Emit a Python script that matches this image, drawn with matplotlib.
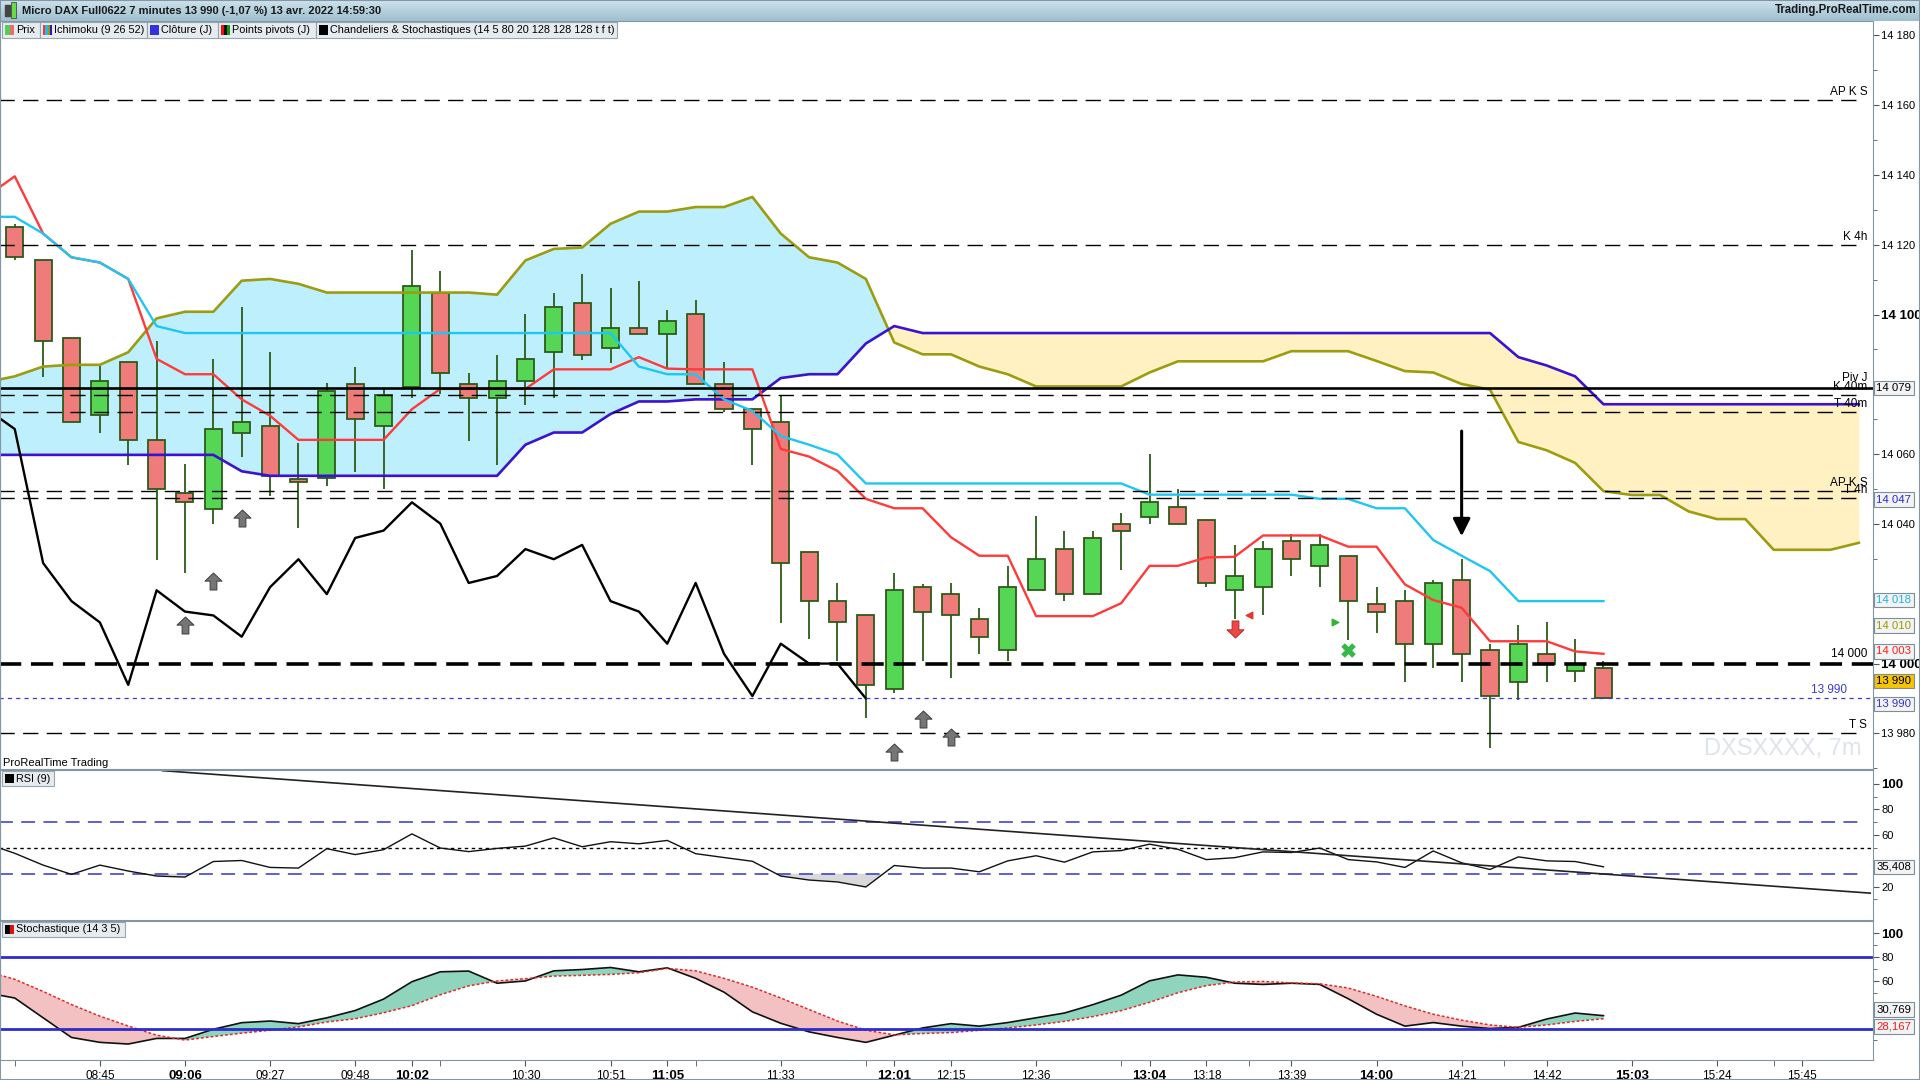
import matplotlib.pyplot as plt
import numpy as np
from matplotlib.path import Path
from matplotlib.patches import Rectangle
from matplotlib.colors import LinearSegmentedColormap

plt.rcParams["font.family"] = ["Liberation Sans", "DejaVu Sans"]
plt.rcParams["lines.scale_dashes"] = False

# 7 minute candles, first bar 08:24, last bar 14:56
opens = [14125.2, 14115.5, 14093.3, 14071.3, 14086.3, 14064.1, 14049.0, 14044.2, 14066.1, 14068.1,
         14053.0, 14053.3, 14080.1, 14068.2, 14079.2, 14106.2, 14080.1, 14076.2, 14081.1, 14089.2,
         14103.3, 14090.4, 14096.1, 14094.4, 14100.1, 14080.1, 14073.0, 14069.2, 14032.0, 14017.9,
         14013.8, 13992.8, 14021.9, 14019.9, 14012.9, 14003.8, 14021.0, 14032.8, 14019.9, 14040.1,
         14042.1, 14045.0, 14041.0, 14021.0, 14021.9, 14035.0, 14028.0, 14030.9, 14017.0, 14017.9,
         14005.7, 14023.9, 14003.8, 13994.8, 14002.8, 13998.0, 13998.8]
highs = [14125.8, 14115.5, 14093.3, 14085.2, 14086.3, 14092.5, 14057.2, 14087.3, 14102.3, 14089.3,
         14063.3, 14080.3, 14085.1, 14079.0, 14118.5, 14112.4, 14083.2, 14088.3, 14100.2, 14106.3,
         14111.5, 14107.5, 14109.5, 14101.4, 14104.3, 14086.3, 14073.0, 14077.0, 14032.0, 14023.2,
         14013.8, 14026.0, 14022.8, 14023.2, 14015.9, 14028.1, 14042.2, 14038.1, 14038.1, 14043.1,
         14060.1, 14050.1, 14041.0, 14034.1, 14035.0, 14037.0, 14037.0, 14030.9, 14022.0, 14021.0,
         14024.0, 14030.1, 14005.7, 14011.0, 14011.8, 14007.1, 14000.8]
lows = [14115.5, 14082.1, 14069.3, 14066.0, 14056.9, 14029.8, 14026.0, 14040.0, 14059.1, 14048.1,
        14038.9, 14050.8, 14054.9, 14050.1, 14076.2, 14077.1, 14063.9, 14056.9, 14074.1, 14076.1,
        14087.1, 14086.2, 14094.4, 14084.5, 14080.1, 14072.2, 14056.9, 14011.6, 14007.0, 14000.8,
        13984.5, 13991.7, 14000.8, 13995.8, 14002.8, 14000.8, 14021.0, 14017.9, 14019.9, 14026.7,
        14040.0, 14040.1, 14021.9, 14012.9, 14013.8, 14025.0, 14021.9, 14006.9, 14008.8, 13994.8,
        13998.8, 13994.8, 13975.7, 13989.7, 13994.8, 13994.8, 13990.0]
closes = [14116.4, 14092.4, 14069.3, 14081.1, 14064.1, 14050.1, 14046.2, 14067.2, 14069.3, 14053.8,
          14051.9, 14078.2, 14070.2, 14077.0, 14108.2, 14083.2, 14076.2, 14081.1, 14087.2, 14102.2,
          14088.3, 14096.1, 14094.4, 14098.1, 14080.1, 14073.0, 14067.2, 14028.8, 14017.9, 14011.8,
          13993.9, 14021.0, 14014.9, 14013.8, 14007.7, 14021.9, 14029.9, 14019.9, 14036.0, 14038.1,
          14046.2, 14040.1, 14023.1, 14025.1, 14032.8, 14029.9, 14034.0, 14017.9, 14014.9, 14005.7,
          14023.1, 14002.8, 13990.7, 14005.7, 14000.0, 14000.0, 13990.0]

# ichimoku lines, starting one bar before the first candle
tenkan = [14133.8, 14139.6, 14123.2, 14116.4, 14114.9, 14110.2, 14087.3, 14082.9, 14082.9, 14075.7,
          14071.0, 14064.1, 14064.1, 14064.1, 14064.1, 14072.9, 14078.7, 14078.7, 14078.7, 14078.7,
          14084.3, 14084.3, 14084.3, 14087.8, 14084.5, 14084.3, 14084.3, 14084.3, 14061.5, 14059.3,
          14055.2, 14047.2, 14044.5, 14044.5, 14036.2, 14030.9, 14030.9, 14013.6, 14013.6, 14013.6,
          14017.3, 14028.0, 14028.0, 14030.4, 14030.6, 14036.7, 14036.7, 14036.7, 14033.5, 14033.5,
          14022.7, 14018.2, 14016.0, 14006.4, 14006.4, 14006.4, 14003.5, 14002.8]
kijun = [14128.0, 14128.0, 14123.2, 14116.4, 14114.9, 14110.2, 14096.7, 14094.7, 14094.7, 14094.7,
         14094.7, 14094.7, 14094.7, 14094.7, 14094.7, 14094.7, 14094.7, 14094.7, 14094.7, 14094.7,
         14094.7, 14094.7, 14094.7, 14085.1, 14082.9, 14082.9, 14075.7, 14072.4, 14065.2, 14062.7,
         14059.9, 14051.6, 14051.6, 14051.6, 14051.6, 14051.6, 14051.6, 14051.6, 14051.6, 14051.6,
         14051.6, 14048.4, 14048.4, 14048.4, 14048.4, 14048.4, 14048.4, 14047.2, 14047.2, 14044.5,
         14044.5, 14035.4, 14030.9, 14026.5, 14017.9, 14017.9, 14017.9, 14017.9]
span_a = [14080.6, 14082.3, 14085.1, 14085.6, 14085.6, 14089.2, 14098.9, 14100.8, 14100.8, 14109.7,
          14110.2, 14108.8, 14106.3, 14106.3, 14106.3, 14106.3, 14106.3, 14106.3, 14105.7, 14115.5,
          14118.8, 14119.2, 14126.0, 14129.5, 14129.5, 14130.8, 14130.8, 14133.7, 14123.2, 14116.4,
          14114.9, 14110.2, 14092.0, 14088.6, 14088.6, 14085.1, 14082.9, 14079.4, 14079.4, 14079.4,
          14079.4, 14083.4, 14086.6, 14086.6, 14086.6, 14086.6, 14089.5, 14089.5, 14089.5, 14086.7,
          14083.8, 14083.4, 14080.1, 14078.5, 14063.5, 14061.1, 14057.5, 14049.4, 14048.3, 14048.3,
          14043.6, 14041.4, 14041.4, 14032.6, 14032.6, 14032.6, 14034.6]
span_b = [14059.8, 14059.8, 14059.8, 14059.8, 14059.8, 14059.8, 14059.8, 14059.8, 14059.8, 14055.1,
          14053.8, 14053.8, 14053.8, 14053.8, 14053.8, 14053.8, 14053.8, 14053.8, 14053.8, 14062.7,
          14066.2, 14066.2, 14071.5, 14075.1, 14075.1, 14075.7, 14075.7, 14075.7, 14081.8, 14082.9,
          14082.9, 14091.7, 14096.7, 14094.7, 14094.7, 14094.7, 14094.7, 14094.7, 14094.7, 14094.7,
          14094.7, 14094.7, 14094.7, 14094.7, 14094.7, 14094.7, 14094.7, 14094.7, 14094.7, 14094.7,
          14094.7, 14094.7, 14094.7, 14094.7, 14087.8, 14085.4, 14082.3, 14074.3, 14074.3, 14074.3,
          14074.3, 14074.3, 14074.3, 14074.3, 14074.3, 14074.3, 14074.3]
chikou_lag = 26

# RSI (9) and stochastic (14 3 5), starting one bar before the first candle
rsi = [53.5, 45.9, 36.7, 29.5, 36.7, 32.1, 28.2, 27.4, 39.5, 40.3,
       34.9, 34.4, 49.5, 44.9, 48.7, 61.0, 50.0, 47.2, 49.7, 51.5,
       57.9, 51.0, 54.9, 53.3, 55.9, 45.6, 42.6, 39.7, 28.2, 25.1,
       23.6, 19.7, 36.4, 34.4, 34.4, 31.5, 40.0, 44.0, 39.0, 47.0,
       48.0, 53.0, 49.0, 41.0, 42.5, 47.0, 46.5, 50.0, 41.0, 39.2,
       34.9, 47.7, 38.5, 33.3, 43.1, 40.0, 39.5, 35.4]
rsi_trend_x = [5.2, 65.4]
rsi_trend_y = [110.2, 14.9]
stoch_k = [50.0, 45.6, 29.0, 12.5, 8.4, 7.0, 11.7, 11.7, 19.4, 24.9,
           26.3, 24.1, 29.0, 35.1, 44.7, 59.3, 67.6, 68.2, 58.0, 59.9,
           68.4, 69.5, 71.2, 67.6, 70.9, 62.1, 50.5, 34.0, 24.4, 17.2,
           12.5, 8.4, 14.4, 20.5, 24.1, 22.0, 25.0, 29.0, 33.0, 40.0,
           48.0, 60.0, 65.0, 63.0, 58.0, 57.0, 58.0, 57.0, 45.0, 32.0,
           22.0, 25.0, 22.0, 20.0, 21.0, 28.0, 33.0, 30.8]
stoch_d = [68.0, 61.3, 51.1, 40.1, 30.4, 22.1, 14.4, 10.3, 13.3, 16.1,
           18.6, 21.3, 25.5, 28.2, 33.2, 39.2, 48.3, 55.8, 59.9, 61.8,
           64.0, 64.6, 65.4, 66.8, 70.4, 68.4, 62.1, 54.7, 45.6, 35.9,
           26.3, 18.6, 14.7, 15.8, 16.6, 18.5, 20.5, 23.0, 26.0, 30.0,
           35.0, 42.0, 50.0, 56.0, 59.0, 59.5, 58.3, 57.5, 54.0, 47.0,
           39.0, 32.0, 27.0, 23.0, 21.0, 23.0, 26.0, 28.2]

# horizontal levels drawn on the price panel
level_values = [14161.5, 14120.0, 14077.0, 14072.0, 14049.5, 14047.3, 13980.0]
level_names = ["AP K S", "K 4h", "K 40m", "T 40m", "AP K S", "T 4h", "T S"]
pivot_value = 14079
round_value = 14000
last_price = 13990

# signal markers
grey_up_x = [6, 7, 8, 31, 32, 33]
grey_up_y = [14011.0, 14023.8, 14041.7, 13974.6, 13984.0, 13979.0]
red_down = (43, 14009.8)
red_tri = (43.5, 14013.8)
green_tri = (46.55, 14011.8)
green_cross = (47, 14003.9)
big_arrow = (51, 14066.6, 14036.5)

tick_idx = [3, 6, 9, 12, 14, 18, 21, 23, 27, 31, 33, 36, 40, 42, 45, 48, 51, 54, 57, 60, 63]
tick_lbl = ["08:45", "09:06", "09:27", "09:48", "10:02", "10:30", "10:51", "11:05", "11:33", "12:01",
            "12:15", "12:36", "13:04", "13:18", "13:39", "14:00", "14:21", "14:42", "15:03", "15:24", "15:45"]
bold_lbl = ["09:06", "10:02", "11:05", "12:01", "13:04", "14:00", "15:03"]
minor_idx = [0, 15, 24, 30, 39, 43.5, 52.5, 62]

W, H = 1920, 1080
AX_R = 1873
GREEN, RED, WICK = "#55d655", "#ef7b7b", "#2d5a18"
BORDER = "#8596a3"


def fx(px):
    return px / W


def fy(py):
    return 1 - py / H


def fmt(v):
    return f"{v:,.0f}".replace(",", " ")


fig = plt.figure(figsize=(19.2, 10.8), dpi=100)
ax = fig.add_axes([0, fy(769), fx(AX_R), fy(21) - fy(769)])
ax_rsi = fig.add_axes([0, fy(920), fx(AX_R), fy(770) - fy(920)])
ax_sto = fig.add_axes([0, fy(1060), fx(AX_R), fy(921) - fy(1060)])

for a in (ax, ax_rsi, ax_sto):
    a.set_xlim(-0.52, 65.5)
    a.yaxis.tick_right()
    a.tick_params(axis="y", which="both", direction="out", length=4, pad=2,
                  labelsize=8, color="#555555")
    a.tick_params(axis="y", which="minor", length=3)
    for s in a.spines.values():
        s.set_color(BORDER)
    if a is not ax_sto:
        a.set_xticks([])

# ---- price panel ----
ax.set_ylim(13969.8, 14184.1)
xl = np.arange(-1, len(tenkan) - 1)
xc = np.arange(-1, len(span_a) - 1)
sa = np.array(span_a)
sb = np.array(span_b)
ax.fill_between(xc, sa, sb, where=sa >= sb, interpolate=True, color="#bdf0fc", lw=0, zorder=1)
ax.fill_between(xc, sa, sb, where=sa < sb, interpolate=True, color="#fff1c1", lw=0, zorder=1)

o = np.array(opens)
c = np.array(closes)
idx = np.arange(len(c))
up = c >= o
ax.vlines(idx, lows, highs, color=WICK, lw=1.3, zorder=3)
ax.bar(idx, np.maximum(np.abs(c - o), 0.35), bottom=np.minimum(o, c), width=0.6,
       color=np.where(up, GREEN, RED), edgecolor=WICK, linewidth=1.3, zorder=4)

ax.plot(xc, sa, color="#9c9c10", lw=1.9, zorder=5)
ax.plot(xc, sb, color="#3a12cf", lw=1.9, zorder=5)
ax.plot(xl, tenkan, color="#ff3a3a", lw=1.7, zorder=6)
ax.plot(xl, kijun, color="#1ec6f2", lw=1.7, zorder=6)
ax.plot(idx[chikou_lag - 1:] - chikou_lag, c[chikou_lag - 1:], color="black", lw=1.7, zorder=6)

for v, name in zip(level_values, level_names):
    ln, = ax.plot([-1, 65.1], [v, v], color="black", lw=1.0, zorder=7)
    ln.set_dashes((11, 6))
    ax.text(65.3, v + 0.6, name, ha="right", va="bottom", fontsize=8.5, zorder=8)
ax.plot([-1, 66], [pivot_value, pivot_value], color="black", lw=1.9, zorder=7)
ax.text(65.3, pivot_value + 1.2, "Piv J", ha="right", va="bottom", fontsize=8.5, zorder=8)
ln, = ax.plot([-1, 66], [round_value, round_value], color="black", lw=2.6, zorder=7)
ln.set_dashes((16, 7))
ax.text(65.3, round_value + 1.0, fmt(round_value), ha="right", va="bottom", fontsize=8.5, zorder=8)
ln, = ax.plot([-1, 66], [last_price, last_price], color="#3b3bdd", lw=0.9, zorder=7)
ln.set_dashes((3, 3))
ax.text(64.6, last_price + 0.6, fmt(last_price), ha="right", va="bottom", fontsize=8.5,
        color="#3b3bdd", zorder=8)

up_arrow = Path([(0, 0.5), (0.5, 0.02), (0.2, 0.02), (0.2, -0.5), (-0.2, -0.5), (-0.2, 0.02),
                 (-0.5, 0.02), (0, 0.5)], closed=True)
down_arrow = Path([(x, -y) for x, y in up_arrow.vertices], closed=True)
ax.scatter(grey_up_x, grey_up_y, marker=up_arrow, s=150, color="#767676", edgecolor="#3e3e3e",
           lw=0.7, zorder=9)
ax.scatter([red_down[0]], [red_down[1]], marker=down_arrow, s=150, color="#ee4747",
           edgecolor="#b52b2b", lw=0.7, zorder=9)
ax.scatter([red_tri[0]], [red_tri[1]], marker="<", s=22, color="#e03535", zorder=9)
ax.scatter([green_tri[0]], [green_tri[1]], marker=">", s=22, color="#2fb52f", zorder=9)
ax.scatter([green_cross[0]], [green_cross[1]], marker="X", s=110, color="#35b845", lw=0, zorder=9)
ax.annotate("", xy=(big_arrow[0], big_arrow[2]), xytext=(big_arrow[0], big_arrow[1]),
            arrowprops=dict(arrowstyle="-|>", color="black", lw=2.2, mutation_scale=26,
                            shrinkA=0, shrinkB=0), zorder=9)

ax.text(65.1, 13972.5, "DXSXXXX, 7m", ha="right", va="bottom", fontsize=17, color="#dfe4ea", zorder=2)

# 14 080 and 14 020 sit under the value boxes, so only their ticks are kept
pt = [13980, 14000, 14040, 14060, 14100, 14120, 14140, 14160, 14180]
ax.set_yticks(pt)
ax.set_yticklabels([fmt(v) for v in pt])
ax.set_yticks(list(range(13970, 14181, 10)), minor=True)
for t in ax.get_yticklabels():
    if t.get_text() in ("14 100", "14 000"):
        t.set_fontweight("bold")
        t.set_fontsize(9.5)


def axis_box(a, y, text, color="black", face="#f3f3f3"):
    a.text(1.0018, y, text, transform=a.get_yaxis_transform(), ha="left", va="center",
           fontsize=8.2, color=color, clip_on=False, zorder=20,
           bbox=dict(boxstyle="square,pad=0.2", fc=face, ec="#7d8d99", lw=0.8))


axis_box(ax, 14079, "14 079")
axis_box(ax, 14047, "14 047", "#2a2ad0")
axis_box(ax, 14018.2, "14 018", "#19b4e6")
axis_box(ax, 14010.9, "14 010", "#9a9a00")
axis_box(ax, 14003.5, "14 003", "#ff2020")
axis_box(ax, 13995.0, "13 990", "black", "#f6c400")
axis_box(ax, 13988.4, "13 990", "#3434cc")

# ---- RSI panel ----
ax_rsi.set_ylim(-6, 110.7)
xr = np.arange(-1, len(rsi) - 1)
r = np.array(rsi)
ax_rsi.fill_between(xr, r, 30, where=r < 30, interpolate=True, color="#d9d9d9", lw=0)
for lvl in (70, 30):
    ln, = ax_rsi.plot([-1, 65.1], [lvl, lvl], color="#3434cc", lw=1.1)
    ln.set_dashes((10, 6))
ln, = ax_rsi.plot([-1, 66], [50, 50], color="black", lw=1.0)
ln.set_dashes((2.5, 2.5))
ax_rsi.plot(xr, r, color="#111111", lw=1.0)
ax_rsi.plot(rsi_trend_x, rsi_trend_y, color="#222222", lw=1.2)
ax_rsi.set_yticks([20, 60, 80, 100])
ax_rsi.set_yticklabels(["20", "60", "80", "100"])
ax_rsi.set_yticks(list(range(10, 101, 10)), minor=True)
ax_rsi.get_yticklabels()[-1].set_fontweight("bold")
ax_rsi.get_yticklabels()[-1].set_fontsize(9.5)
axis_box(ax_rsi, 35.4, "35,408")

# ---- stochastic panel ----
ax_sto.set_ylim(-6.4, 110.2)
xs = np.arange(-1, len(stoch_k) - 1)
k = np.array(stoch_k)
d = np.array(stoch_d)
ax_sto.fill_between(xs, k, d, where=k >= d, interpolate=True, color="#8fd4bd", lw=0)
ax_sto.fill_between(xs, k, d, where=k < d, interpolate=True, color="#f3c1c1", lw=0)
ax_sto.plot(xs, k, color="#111111", lw=1.2)
ax_sto.plot(xs, d, color="#e02a2a", lw=1.1, linestyle=(0, (2, 1.5)))
for lvl in (80, 20):
    ax_sto.plot([-1, 66], [lvl, lvl], color="#2b2bd0", lw=2.0)
ax_sto.set_yticks([60, 80, 100])
ax_sto.set_yticklabels(["60", "80", "100"])
ax_sto.set_yticks(list(range(10, 101, 10)), minor=True)
ax_sto.get_yticklabels()[-1].set_fontweight("bold")
ax_sto.get_yticklabels()[-1].set_fontsize(9.5)
axis_box(ax_sto, 35.9, "30,769")
axis_box(ax_sto, 21.6, "28,167", "#ee1c1c")

ax_sto.set_xticks(tick_idx)
ax_sto.set_xticklabels(tick_lbl)
ax_sto.set_xticks(minor_idx, minor=True)
ax_sto.tick_params(axis="x", which="both", direction="out", length=4, pad=3,
                   labelsize=8.5, color="#555555")
for t in ax_sto.get_xticklabels():
    if t.get_text() in bold_lbl:
        t.set_fontweight("bold")
        t.set_fontsize(9.5)

# ---- header bar and legend row ----
hdr = fig.add_axes([0, fy(21), 1, 21 / H])
hdr.imshow(np.linspace(0, 1, 20)[:, None], aspect="auto", extent=[0, 1, 0, 1],
           cmap=LinearSegmentedColormap.from_list("hdr", ["#cde2ec", "#9fbfcf"]))
hdr.set_axis_off()
hdr.add_patch(Rectangle((0.0025, 0.25), 0.0025, 0.5, color="#444444", transform=hdr.transAxes))
hdr.add_patch(Rectangle((0.0055, 0.15), 0.003, 0.75, color="#66dd44", ec="#333333", lw=0.5,
                        transform=hdr.transAxes))
hdr.text(0.0115, 0.5, "Micro DAX Full0622 7 minutes 13 990 (-1,07 %) 13 avr. 2022 14:59:30",
         transform=hdr.transAxes, va="center", ha="left", fontsize=8, fontweight="bold", color="#1a1a1a")
hdr.text(0.9985, 0.5, "Trading.ProRealTime.com", transform=hdr.transAxes, va="center",
         ha="right", fontsize=8.3, fontweight="bold", color="#1a1a1a")


def label_box(x0, x1, y0, y1, text, colors):
    fig.add_artist(Rectangle((fx(x0), fy(y1)), fx(x1 - x0), (y1 - y0) / H, transform=fig.transFigure,
                             fc="#e6ebef", ec="#97a5b1", lw=0.8, zorder=20))
    sw = 9 / len(colors)
    for n, col in enumerate(colors):
        fig.add_artist(Rectangle((fx(x0 + 3 + n * sw), fy(y1 - 3)), fx(sw), (y1 - y0 - 6) / H,
                                 transform=fig.transFigure, fc=col, lw=0, zorder=21))
    fig.text(fx(x0 + 14), fy((y0 + y1) / 2), text, va="center", ha="left", fontsize=7.8, zorder=22)


label_box(2, 40, 22, 38, "Prix", ["#55cc55", "#ee6b6b"])
label_box(40, 147, 22, 38, "Ichimoku (9 26 52)", ["#ff3333", "#22bbee", "#999900", "#3311cc"])
label_box(147, 218, 22, 38, "Clôture (J)", ["#3333dd"])
label_box(218, 316, 22, 38, "Points pivots (J)", ["#ee1111", "#111111", "#119911"])
label_box(316, 617, 22, 38, "Chandeliers & Stochastiques (14 5 80 20 128 128 128 t f t)", ["#000000"])
label_box(2, 54, 771, 786, "RSI (9)", ["#000000"])
label_box(2, 125, 922, 937, "Stochastique (14 3 5)", ["#000000", "#dd1111"])
fig.text(fx(3), fy(763), "ProRealTime Trading", va="center", ha="left", fontsize=8)

fig.add_artist(Rectangle((0, 0), 1, 1, transform=fig.transFigure, fill=False, ec=BORDER, lw=1.5))

fig.savefig("out.png", dpi=100)
